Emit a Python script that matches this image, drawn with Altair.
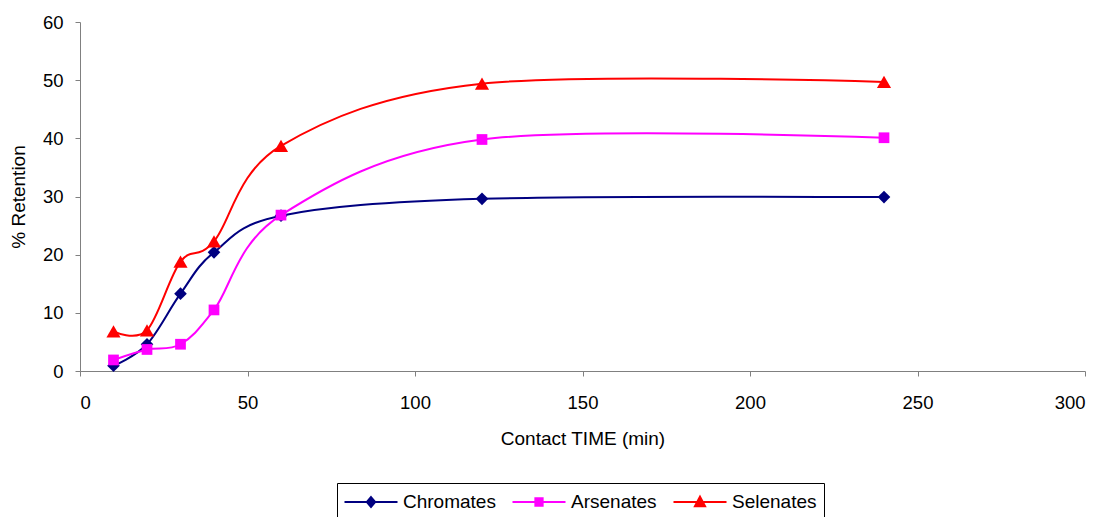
import altair as alt
import pandas as pd

times = [10, 20, 30, 40, 60, 120, 240]
chromates = [0.9, 4.6, 13.3, 20.4, 26.7, 29.6, 29.9]
arsenates = [1.9, 3.7, 4.6, 10.5, 26.8, 39.8, 40.1]
selenates = [6.8, 7.0, 18.8, 22.3, 38.7, 49.4, 49.7]

series_names = ["Chromates", "Arsenates", "Selenates"]
series_colors = ["#000080", "#FF00FF", "#FF0000"]
series_shapes = ["diamond", "square", "triangle-up"]
series_sizes = [160, 115, 200]
legend_shapes = [
    "M-2.41,0H2.41M0,-0.45L0.38,0L0,0.45L-0.38,0Z",
    "M-2.41,0H2.41M-0.33,-0.33H0.33V0.33H-0.33Z",
    "M-2.41,0H2.41M0,-0.48L0.46,0.38H-0.46Z",
]

rows = []
for name, vals in zip(series_names, [chromates, arsenates, selenates]):
    for t, v in zip(times, vals):
        rows.append({"Time": t, "Retention": v, "Series": name})
df = pd.DataFrame(rows)

FONT = "Liberation Sans"
x_enc = alt.X("Time:Q", title="Contact TIME (min)",
              scale=alt.Scale(domain=[0, 300], nice=False),
              axis=alt.Axis(values=[0, 50, 100, 150, 200, 250, 300], grid=False,
                            tickSize=5, labelPadding=17, titlePadding=18,
                            domainColor="#808080", tickColor="#808080",
                            labelFontSize=18.5, titleFontSize=19, titleFontWeight="normal",
                            labelColor="black", titleColor="black",
                            labelFont=FONT, titleFont=FONT))
y_enc = alt.Y("Retention:Q", title="% Retention",
              scale=alt.Scale(domain=[0, 60], nice=False),
              axis=alt.Axis(values=[0, 10, 20, 30, 40, 50, 60], grid=False,
                            tickSize=5, labelPadding=12, titlePadding=14,
                            domainColor="#808080", tickColor="#808080",
                            labelFontSize=18.5, titleFontSize=19, titleFontWeight="normal",
                            labelColor="black", titleColor="black",
                            labelFont=FONT, titleFont=FONT))

color_scale = alt.Scale(domain=series_names, range=series_colors)
shape_scale = alt.Scale(domain=series_names, range=series_shapes)

lines = alt.Chart(df).mark_line(interpolate="cardinal", strokeWidth=2).encode(
    x=x_enc, y=y_enc,
    color=alt.Color("Series:N", scale=color_scale, legend=None),
    detail="Series:N",
)
point_layers = []
for name, sz in zip(series_names, series_sizes):
    point_layers.append(
        alt.Chart(df).transform_filter(alt.datum.Series == name)
        .mark_point(filled=True, opacity=1, size=sz).encode(
            x=x_enc, y=y_enc,
            color=alt.Color("Series:N", scale=color_scale, legend=None),
            shape=alt.Shape("Series:N", scale=shape_scale, legend=None),
        )
    )
main = alt.layer(lines, *point_layers)

legend_layer = alt.Chart(df).mark_point(opacity=0, strokeWidth=2).encode(
    x=x_enc, y=y_enc,
    fill=alt.Fill("Series:N", scale=alt.Scale(domain=series_names, range=series_colors),
                  legend=alt.Legend(title=None)),
    stroke=alt.Stroke("Series:N", scale=alt.Scale(domain=series_names, range=series_colors),
                      legend=alt.Legend(title=None)),
    shape=alt.Shape("Series:N", scale=alt.Scale(domain=series_names, range=legend_shapes),
                    legend=alt.Legend(title=None)),
)

chart = alt.layer(main, legend_layer).resolve_scale(
    color="independent", shape="independent", fill="independent", stroke="independent",
).properties(
    width=1005, height=349,
    autosize=alt.AutoSizeParams(type="none"),
    padding={"left": 72, "top": 14, "right": 15, "bottom": 160},
).configure_view(stroke=None).configure_legend(
    orient="none", legendX=257, legendY=461, direction="horizontal",
    strokeColor="black", padding=7, symbolSize=484, symbolStrokeWidth=2,
    symbolOffset=15, labelOffset=20,
    symbolOpacity=1, labelFontSize=19, labelFont=FONT, labelColor="black",
    columnPadding=12,
)

chart.save("out.html", embed_options={"renderer": "svg", "actions": False})
